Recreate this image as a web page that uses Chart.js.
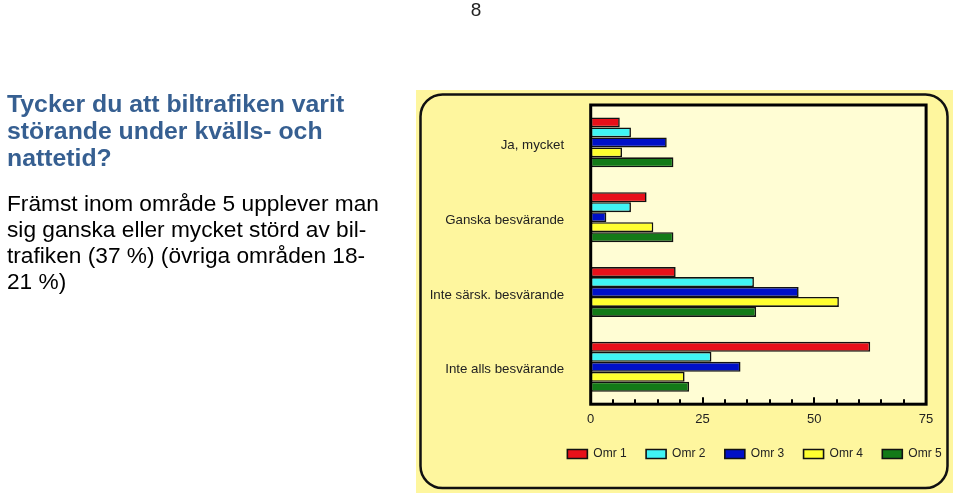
<!DOCTYPE html>
<html>
<head>
<meta charset="utf-8">
<script src="https://cdn.jsdelivr.net/npm/chart.js@4"></script>
<style>
  html, body { margin: 0; padding: 0; background: #fff; overflow: hidden; width: 960px; height: 500px; }
  #c { position: absolute; left: 0; top: 0; }
  .txt { position: absolute; font-family: "Liberation Sans", Arial, sans-serif; white-space: nowrap; }
  #pg { left: 466px; top: -1px; width: 20px; text-align: center; font-size: 19px; color: #222; }
  #title { left: 7px; top: 90px; font-size: 24.8px; line-height: 27px; font-weight: bold; color: #365f91; }
  #body { left: 7px; top: 190px; font-size: 22.7px; line-height: 26px; color: #000; }
</style>
</head>
<body>
<canvas id="c" width="1089" height="500"></canvas>
<div class="txt" id="pg">8</div>
<div class="txt" id="title">Tycker du att biltrafiken varit<br>störande under kvälls- och<br>nattetid?</div>
<div class="txt" id="body">Främst inom område 5 upplever man<br>sig ganska eller mycket störd av bil-<br>trafiken (37 %) (övriga områden 18-<br>21 %)</div>
<script>
const categories = ['Ja, mycket', 'Ganska besvärande', 'Inte särsk. besvärande', 'Inte alls besvärande'];
const seriesNames = ['Omr 1', 'Omr 2', 'Omr 3', 'Omr 4', 'Omr 5'];
const omr1 = [6.5, 12.5, 19, 62.5];
const omr2 = [9, 9, 36.5, 27];
const omr3 = [17, 3.5, 46.5, 33.5];
const omr4 = [7, 14, 55.5, 21];
const omr5 = [18.5, 18.5, 37, 22];
const xTickValues = [0, 25, 50, 75];
const minorStep = 5;

const seriesValues = [omr1, omr2, omr3, omr4, omr5];
const seriesColors = ['#e8101a', '#40f4f4', '#0010c8', '#ffff30', '#137a18'];

const decor = {
  id: 'decor',
  beforeDraw(chart) {
    const ctx = chart.ctx, a = chart.chartArea;
    ctx.save();
    ctx.fillStyle = '#fef69e';
    ctx.fillRect(416, 90, 537, 403);
    ctx.beginPath();
    ctx.roundRect(420.5, 94.5, 527, 393.5, 22);
    ctx.lineWidth = 2.5;
    ctx.strokeStyle = '#111';
    ctx.stroke();
    ctx.fillStyle = '#fffdd4';
    ctx.fillRect(a.left, a.top, a.right - a.left, a.bottom - a.top);
    ctx.restore();
  },
  afterDatasetsDraw(chart) {
    const ctx = chart.ctx, a = chart.chartArea, xs = chart.scales.x;
    ctx.save();
    ctx.strokeStyle = '#000';
    ctx.lineWidth = 2;
    for (let v = xs.min + minorStep; v < xs.max; v += minorStep) {
      const px = Math.round(xs.getPixelForValue(v));
      const len = xTickValues.includes(v) ? 7 : 5;
      ctx.beginPath();
      ctx.moveTo(px, a.bottom);
      ctx.lineTo(px, a.bottom - len);
      ctx.stroke();
    }
    ctx.lineWidth = 3;
    ctx.strokeRect(a.left, a.top, a.right - a.left, a.bottom - a.top);
    ctx.restore();
  }
};

Chart.defaults.font.family = '"Liberation Sans", Arial, sans-serif';

new Chart(document.getElementById('c'), {
  type: 'bar',
  data: {
    labels: categories,
    datasets: seriesNames.map((n, i) => ({
      label: n,
      data: seriesValues[i],
      backgroundColor: seriesColors[i],
      borderColor: '#111',
      borderWidth: 1.6,
      borderSkipped: false,
      xAxisID: 'x',
      yAxisID: 'y'
    }))
  },
  options: {
    indexAxis: 'y',
    responsive: false,
    animation: false,
    events: [],
    layout: { padding: { left: 420, right: 0, top: 105, bottom: 30 } },
    datasets: { bar: { categoryPercentage: 0.667, barPercentage: 1 } },
    scales: {
      y: {
        type: 'category',
        position: 'left',
        grid: { display: false, drawTicks: false },
        border: { display: false },
        ticks: { padding: 26.5, labelOffset: 3, color: '#222', font: { size: 13.3 } },
        afterFit(s) { s.width = 170.7; }
      },
      x: {
        type: 'linear',
        position: 'bottom',
        min: 0,
        max: 75,
        afterBuildTicks(s) { s.ticks = xTickValues.map(v => ({ value: v })); },
        grid: { display: false, drawTicks: false },
        border: { display: false },
        ticks: { padding: 7.8, color: '#222', font: { size: 13 }, maxRotation: 0 },
        afterFit(s) { s.height = 24.4; }
      },
      yPad: {
        type: 'linear',
        position: 'right',
        display: true,
        grid: { display: false, drawTicks: false },
        border: { display: false },
        ticks: { display: false },
        afterFit(s) { s.width = 162.9; }
      }
    },
    plugins: {
      legend: {
        position: 'bottom',
        align: 'center',
        labels: { boxWidth: 20, boxHeight: 9, padding: 19.4, color: '#222', font: { size: 12 } }
      },
      tooltip: { enabled: false }
    }
  },
  plugins: [decor]
});
</script>
</body>
</html>
